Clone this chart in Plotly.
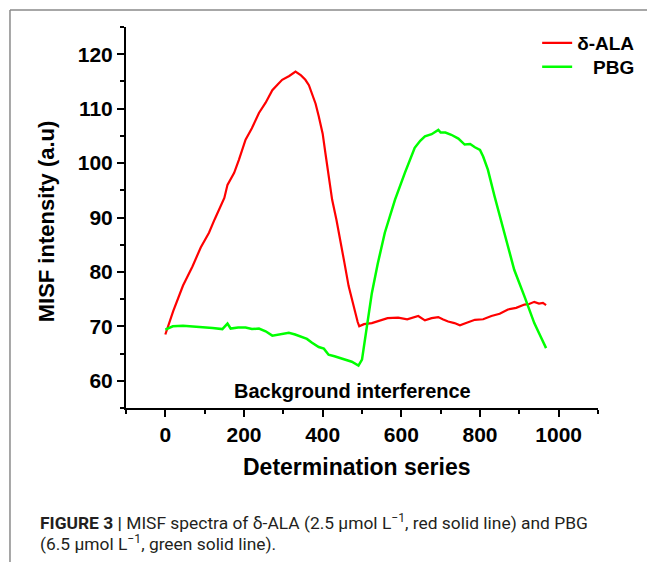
import plotly.graph_objects as go

# ---- data ----
ala_x = [0, 20, 45, 69, 90, 111, 125, 137, 150, 158, 175, 187, 196, 204, 220, 238, 255, 272, 285, 297, 315, 331, 345, 356, 365, 373, 382, 390, 400, 407, 415, 424, 435, 445, 455, 466, 475, 483, 489, 493, 505, 525, 545, 565, 592, 615, 643, 660, 677, 694, 705, 719, 735, 749, 768, 787, 808, 829, 850, 871, 892, 913, 925, 938, 950, 960, 968]
ala_y = [68.5, 72.8, 77.5, 81.0, 84.5, 87.2, 89.6, 91.4, 93.6, 96.0, 98.2, 100.6, 102.8, 104.3, 106.4, 109.2, 111.1, 113.4, 114.4, 115.3, 116.0, 116.8, 116.1, 115.3, 114.3, 112.8, 110.9, 108.6, 105.4, 101.8, 97.8, 93.3, 89.6, 85.3, 81.8, 77.4, 74.6, 72.5, 70.8, 70.0, 70.4, 70.6, 71.0, 71.5, 71.6, 71.3, 71.9, 71.1, 71.5, 71.7, 71.3, 70.9, 70.6, 70.2, 70.7, 71.2, 71.3, 71.9, 72.3, 73.1, 73.4, 74.0, 74.1, 74.5, 74.2, 74.3, 73.9]

pbg_x = [0, 19, 45, 69, 95, 120, 145, 158, 166, 185, 204, 220, 238, 255, 272, 295, 314, 330, 347, 360, 373, 390, 403, 415, 430, 445, 460, 474, 491, 500, 525, 540, 558, 584, 609, 634, 648, 660, 677, 694, 700, 712, 727, 745, 761, 775, 787, 800, 808, 820, 837, 862, 887, 913, 938, 955, 968]
pbg_y = [69.4, 70.0, 70.1, 70.0, 69.9, 69.7, 69.5, 70.5, 69.6, 69.8, 69.8, 69.5, 69.6, 69.1, 68.3, 68.6, 68.8, 68.5, 68.1, 67.7, 67.0, 66.2, 65.9, 64.8, 64.5, 64.2, 63.9, 63.5, 62.8, 63.9, 76.1, 81.5, 87.2, 93.3, 98.2, 102.8, 104.1, 104.9, 105.3, 106.1, 105.6, 105.6, 105.2, 104.5, 103.4, 103.5, 102.9, 102.4, 101.2, 98.8, 93.9, 87.2, 80.4, 75.5, 70.6, 68.0, 66.0]

series_names = ["δ-ALA", "\u00a0\u00a0\u00a0PBG"]
series_colors = ["#ff0000", "#00ff00"]

x_ticks = [0, 200, 400, 600, 800, 1000]
y_ticks = [60, 70, 80, 90, 100, 110, 120]

FONT = "Liberation Sans, Arial, sans-serif"
CAP_FONT = "Roboto, Liberation Sans, sans-serif"

fig = go.Figure()
fig.add_trace(go.Scatter(x=ala_x, y=ala_y, mode="lines", name=series_names[0],
                         line=dict(color=series_colors[0], width=2.2), legend="legend"))
fig.add_trace(go.Scatter(x=pbg_x, y=pbg_y, mode="lines", name=series_names[1],
                         line=dict(color=series_colors[1], width=2.5), legend="legend2"))

axis_common = dict(
    showline=True, linecolor="black", linewidth=2,
    ticks="outside", ticklen=7, tickwidth=2, tickcolor="black",
    showgrid=False, zeroline=False,
    tickfont=dict(family=FONT, size=21, color="black", weight="bold"),
)

fig.update_xaxes(range=[-100, 1100], tickvals=x_ticks,
                 minor=dict(dtick=100, tick0=0, ticks="outside", ticklen=4, tickwidth=2, tickcolor="black"),
                 **axis_common)
fig.update_yaxes(range=[55, 125], tickvals=y_ticks,
                 minor=dict(dtick=5, tick0=0, ticks="outside", ticklen=4, tickwidth=2, tickcolor="black"),
                 **axis_common)

legend_font = dict(family=FONT, size=19, color="black", weight="bold")
fig.update_layout(
    width=647, height=562,
    margin=dict(l=126, r=49, t=27, b=154, autoexpand=False),
    paper_bgcolor="white", plot_bgcolor="white",
    showlegend=True,
    legend=dict(x=0.8711, y=1.008, xanchor="left", yanchor="top",
                bgcolor="rgba(0,0,0,0)", font=legend_font),
    legend2=dict(x=0.8711, y=0.945, xanchor="left", yanchor="top",
                 bgcolor="rgba(0,0,0,0)", font=legend_font),
)

annos = [
    dict(text="MISF intensity (a.u)", x=-0.1695, y=0.49, xref="paper", yref="paper",
         xanchor="center", yanchor="middle", textangle=-90, showarrow=False,
         font=dict(family=FONT, size=22, color="black", weight="bold")),
    dict(text="Determination series", x=0.49, y=-0.154, xref="paper", yref="paper",
         xanchor="center", yanchor="middle", showarrow=False,
         font=dict(family=FONT, size=23, color="black", weight="bold")),
    dict(text="Background interference", x=476, y=58.1, xref="x", yref="y",
         xanchor="center", yanchor="middle", showarrow=False,
         font=dict(family=FONT, size=20, color="black", weight="bold")),
    dict(text="<b>FIGURE 3 |</b> MISF spectra of δ-ALA (2.5 µmol L<sup>−1</sup>, red solid line) and PBG",
         x=-0.186, y=-0.2984, xref="paper", yref="paper", xanchor="left", yanchor="middle",
         showarrow=False,
         font=dict(family=CAP_FONT, size=17.4, color="#231f20")),
    dict(text="(6.5 µmol L<sup>−1</sup>, green solid line).",
         x=-0.186, y=-0.3543, xref="paper", yref="paper", xanchor="left", yanchor="middle",
         showarrow=False,
         font=dict(family=CAP_FONT, size=17.4, color="#231f20")),
]
fig.update_layout(annotations=annos)

# figure frame (top and left border)
fig.add_shape(type="line", xref="paper", yref="paper", x0=-0.2458, y0=1.0446, x1=1.2, y1=1.0446,
              line=dict(color="#8a8a8a", width=1.5))
fig.add_shape(type="line", xref="paper", yref="paper", x0=-0.2458, y0=1.0446, x1=-0.2458, y1=-0.5,
              line=dict(color="#8a8a8a", width=1.5))

fig.write_html("out.html", config={"displayModeBar": False},
               post_script="document.body.style.margin='0';document.body.style.overflow='hidden';")
